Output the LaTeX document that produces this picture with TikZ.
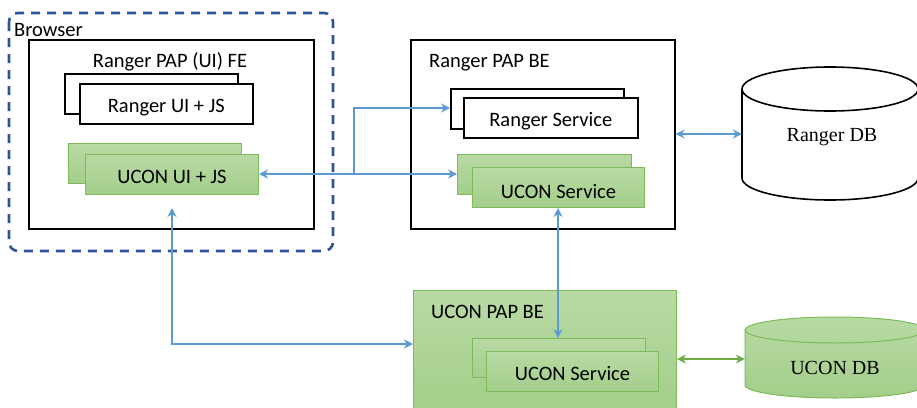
\documentclass[tikz,border=0pt]{standalone}
\usepackage{fontspec}
\setmainfont{Carlito}
\newfontfamily\dbfont{Liberation Serif}
\usetikzlibrary{arrows.meta}
\definecolor{arrblue}{HTML}{5B9BD5}
\definecolor{dashblue}{HTML}{2F5597}
\definecolor{gtop}{HTML}{B8DAA4}
\definecolor{gbot}{HTML}{A3CE8A}
\definecolor{gline}{HTML}{7DBB5A}
\definecolor{garrow}{HTML}{70AD47}
\tikzset{
  lbl/.style={font=\fontsize{20.5}{24}\selectfont, inner sep=0pt},
  dblbl/.style={font=\dbfont\fontsize{20}{24}\selectfont, inner sep=0pt},
  wbox/.style={draw=black, line width=1.6pt, fill=white, inner sep=0pt, anchor=north west},
  gbox/.style={draw=gline, line width=1pt, top color=gtop, bottom color=gbot, inner sep=0pt, anchor=north west},
  bluearr/.style={draw=arrblue, line width=1.6pt, -{Stealth[length=9pt,width=9pt,inset=3pt]}},
  bluedbl/.style={draw=arrblue, line width=1.6pt, {Stealth[length=9pt,width=9pt,inset=3pt]}-{Stealth[length=9pt,width=9pt,inset=3pt]}},
  greendbl/.style={draw=garrow, line width=1.3pt, {Stealth[length=9pt,width=9pt,inset=3pt]}-{Stealth[length=9pt,width=9pt,inset=3pt]}},
}
\begin{document}
\begin{tikzpicture}[x=1pt,y=-1pt]
\useasboundingbox (0,0) rectangle (917,407);
% Browser
\draw[dashblue, line width=2.6pt, dash pattern=on 9pt off 7pt, rounded corners=9pt] (9,13) rectangle (333,251);
\node[lbl, anchor=west] (browser) at (14,30) {Browser};
% FE box
\node[wbox, minimum width=285pt, minimum height=189pt] (fe) at (28,39) {};
\node[lbl] (fetitle) at (170,62) {Ranger PAP (UI) FE};
\node[wbox, minimum width=173pt, minimum height=40pt] (ruib) at (64,73) {};
\node[wbox, minimum width=173pt, minimum height=40pt] (rui) at (79,83) {};
\node[lbl] at ([yshift=-4pt]rui.center) {Ranger UI + JS};
\node[gbox, minimum width=173pt, minimum height=40pt] (uuib) at (68,143) {};
\node[gbox, minimum width=173pt, minimum height=40pt] (uui) at (85,154) {};
\node[lbl] at ([yshift=-2pt]uui.center) {UCON UI + JS};
% Ranger PAP BE
\node[wbox, minimum width=264pt, minimum height=189pt] (rbe) at (410,39) {};
\node[lbl, anchor=west] (rbetitle) at (429,63) {Ranger PAP BE};
\node[wbox, minimum width=173pt, minimum height=40pt] (rsb) at (450,88) {};
\node[wbox, minimum width=174pt, minimum height=40pt] (rs) at (463,97) {};
\node[lbl] at ([yshift=-3pt]rs.center) {Ranger Service};
\node[gbox, minimum width=174pt, minimum height=40pt] (usb) at (457,154) {};
\node[gbox, minimum width=172pt, minimum height=40pt] (us) at (472,167) {};
\node[lbl] at ([yshift=-4pt]us.center) {UCON Service};
% UCON PAP BE
\node[gbox, minimum width=263pt, minimum height=122pt] (ube) at (413,290) {};
\node[lbl, anchor=west] (ubetitle) at (431,312) {UCON PAP BE};
\node[gbox, minimum width=173pt, minimum height=39pt] (us2b) at (472,338) {};
\node[gbox, minimum width=172pt, minimum height=40pt] (us2) at (486,351) {};
\node[lbl] at ([yshift=-2pt]us2.center) {UCON Service};
% Ranger DB cylinder
\node[minimum width=176pt, minimum height=133pt, inner sep=0pt] (rdb) at (830,133.5) {};
\draw[line width=1.6pt, fill=white] (742,89) -- (742,178) arc[start angle=180, end angle=0, x radius=88, y radius=22] -- (918,89) arc[start angle=0, end angle=-180, x radius=88, y radius=22] -- cycle;
\draw[line width=1.6pt] (742,89) arc[start angle=180, end angle=0, x radius=88, y radius=22];
\node[dblbl] at (832,137) {Ranger DB};
% UCON DB cylinder
\node[minimum width=180pt, minimum height=80pt, inner sep=0pt] (udb) at (835,357.5) {};
\shade[top color=gtop, bottom color=gbot] (745,330) -- (745,385) arc[start angle=180, end angle=0, x radius=90, y radius=13] -- (925,330) arc[start angle=0, end angle=-180, x radius=90, y radius=13] -- cycle;
\draw[gline, line width=1pt] (745,330) -- (745,385) arc[start angle=180, end angle=0, x radius=90, y radius=13] -- (925,330) arc[start angle=0, end angle=-180, x radius=90, y radius=13] -- cycle;
\draw[gline, line width=1pt] (745,330) arc[start angle=180, end angle=0, x radius=90, y radius=13];
\node[dblbl] at (835,368) {UCON DB};
% connectors
\coordinate (jn) at (354,174);
\draw[bluearr] (jn) -- (uui.east |- jn);
\draw[bluearr] (jn) -- (usb.west |- jn);
\draw[bluearr] (jn) |- (rsb.west |- 0,108);
\draw[bluedbl] (rbe.east |- 0,134) -- (rdb.west |- 0,134);
\draw[bluedbl] (us.south -| 558,0) -- (us2b.north -| 558,0);
\draw[bluedbl] (172,208) |- (ube.west |- 0,344);
\draw[greendbl] (ube.east |- 0,359) -- (udb.west |- 0,359);
\end{tikzpicture}
\end{document}
